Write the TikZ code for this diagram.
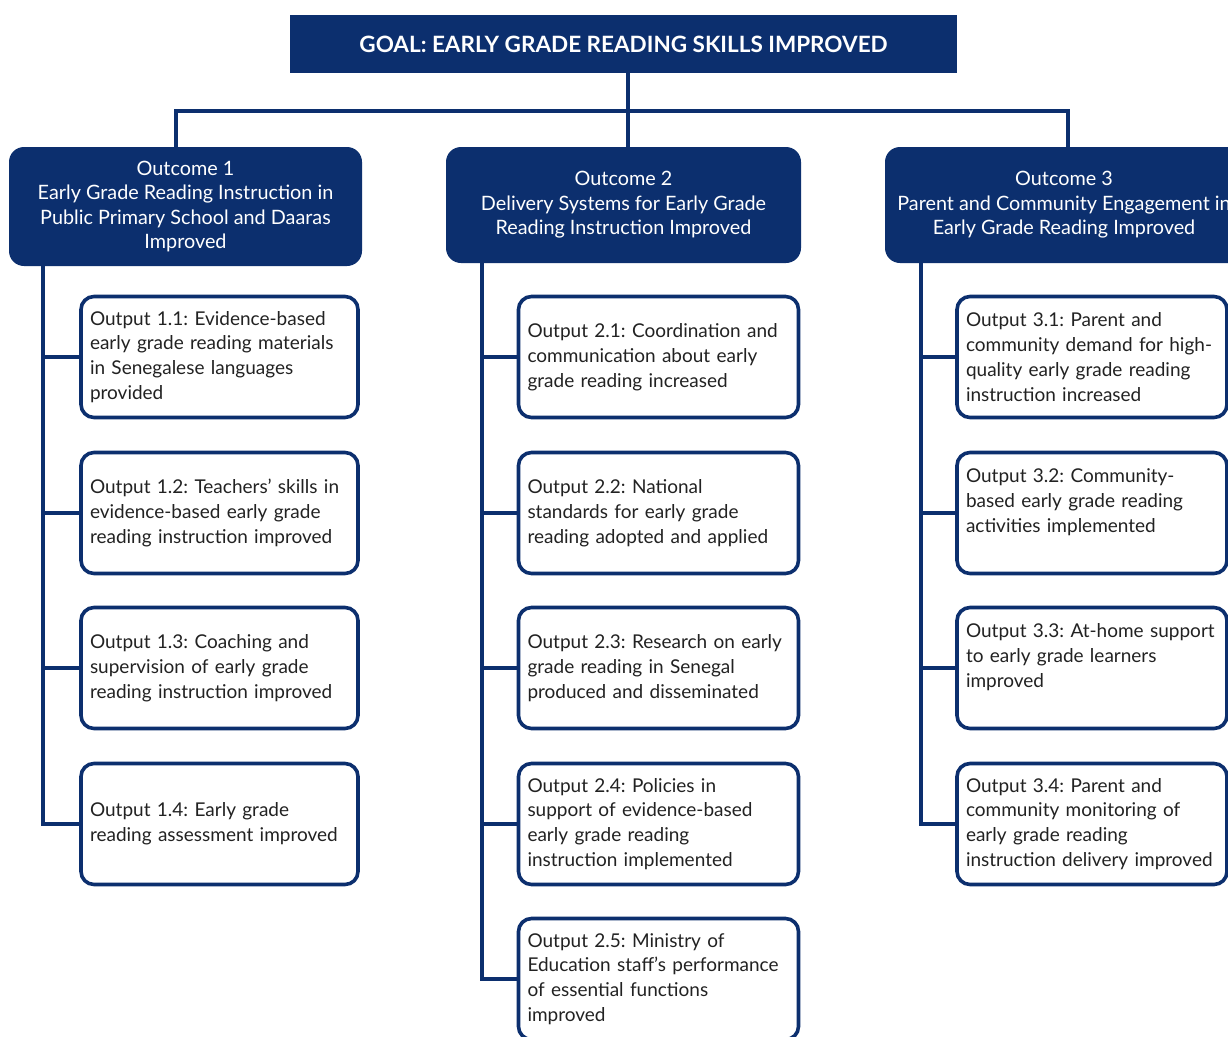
\documentclass[tikz,border=0pt]{standalone}
\usepackage{fontspec}
\setmainfont{Lato}
\definecolor{navy}{HTML}{0C2F6E}
\definecolor{txt}{HTML}{222222}
\frenchspacing
\begin{document}
\begin{tikzpicture}[x=1pt,y=-1pt,
  goalbox/.style={fill=navy,text=white,minimum width=667pt,minimum height=58pt,inner sep=0pt,
    font=\fontsize{22.5}{26}\selectfont\bfseries},
  outbox/.style={fill=navy,text=white,rounded corners=15pt,inner sep=0pt,align=center,
    font=\fontsize{19.8}{24.6}\selectfont},
  putbox/.style={draw=navy,line width=3.6pt,fill=white,rounded corners=13pt,text=txt,
    align=left,minimum height=121pt,inner xsep=9pt,inner ysep=0pt,
    font=\fontsize{19}{24.8}\selectfont},
  colA/.style={putbox,text width=259pt},
  colB/.style={putbox,text width=262pt},
  colC/.style={putbox,text width=252pt},
  conn/.style={draw=navy,line width=3.8pt}]
\useasboundingbox (0,0) rectangle (1228,1036);
\clip (0,0) rectangle (1228,1036);
\fill[white] (0,0) rectangle (1228,1036);

\node[goalbox] (goal) at (623.5,44) {GOAL: EARLY GRADE READING SKILLS IMPROVED};

\node[outbox,minimum width=353pt,minimum height=119pt] (o1) at (185.5,206.5)
  {Outcome 1\\Early Grade Reading Instruction in\\Public Primary School and Daaras\\Improved};
\node[outbox,minimum width=355pt,minimum height=116pt] (o2) at (623.5,205)
  {Outcome 2\\Delivery Systems for Early Grade\\Reading Instruction Improved};
\node[outbox,minimum width=358pt,minimum height=116pt] (o3) at (1064,205)
  {Outcome 3\\Parent and Community Engagement in\\Early Grade Reading Improved};

% column 1
\node[colA] (p11) at (219.5,357) {Output 1.1: Evidence-based\\early grade reading materials\\in Senegalese languages\\provided};
\node[colA] (p12) at (219.5,513) {Output 1.2: Teachers' skills in\\evidence-based early grade\\reading instruction improved};
\node[colA] (p13) at (219.5,668) {Output 1.3: Coaching and\\supervision of early grade\\reading instruction improved};
\node[colA] (p14) at (219.5,824) {Output 1.4: Early grade\\reading assessment improved};

% column 2
\node[colB] (p21) at (658.5,357) {Output 2.1: Coordination and\\communication about early\\grade reading increased};
\node[colB] (p22) at (658.5,513) {Output 2.2: National\\standards for early grade\\reading adopted and applied};
\node[colB] (p23) at (658.5,668) {Output 2.3: Research on early\\grade reading in Senegal\\produced and disseminated};
\node[colB] (p24) at (658.5,824) {Output 2.4: Policies in\\support of evidence-based\\early grade reading\\instruction implemented};
\node[colB] (p25) at (658.5,979) {Output 2.5: Ministry of\\Education staff's performance\\of essential functions\\improved};

% column 3
\node[colC] (p31) at (1092,357) {Output 3.1: Parent and\\community demand for high-\\quality early grade reading\\instruction increased};
\node[colC] (p32) at (1092,513) {Output 3.2: Community-\\based early grade reading\\activities implemented\\\mbox{}};
\node[colC] (p33) at (1092,668) {Output 3.3: At-home support\\to early grade learners\\improved\\\mbox{}};
\node[colC] (p34) at (1092,824) {Output 3.4: Parent and\\community monitoring of\\early grade reading\\instruction delivery improved};

% junctions
\coordinate (jl) at (176,111);
\coordinate (jm) at (628,111);
\coordinate (jr) at (1068,111);
\coordinate (s1) at (43,0);
\coordinate (s2) at (482,0);
\coordinate (s3) at (921,0);

\path[conn] (goal.south -| jm) -- (jm);
\path[conn,line cap=rect] (o1.north -| jl) -- (jl) -- (jr) -- (o3.north -| jr);
\path[conn] (jm) -- (o2.north -| jm);

\path[conn] (o1.south -| s1) |- (p14.west);
\foreach \n in {p11,p12,p13} \path[conn] (\n.west -| s1) -- (\n.west);
\path[conn] (o2.south -| s2) |- (p25.west);
\foreach \n in {p21,p22,p23,p24} \path[conn] (\n.west -| s2) -- (\n.west);
\path[conn] (o3.south -| s3) |- (p34.west);
\foreach \n in {p31,p32,p33} \path[conn] (\n.west -| s3) -- (\n.west);
\end{tikzpicture}
\end{document}
